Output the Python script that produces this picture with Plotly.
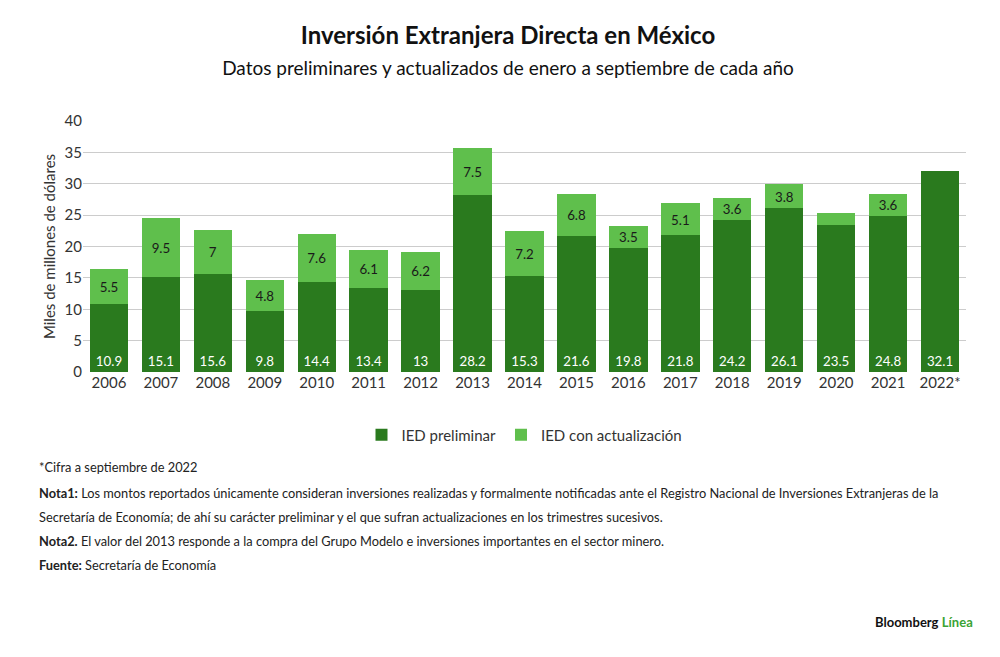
import plotly.graph_objects as go

# Datos de la gráfica
years = ['2006', '2007', '2008', '2009', '2010', '2011', '2012', '2013', '2014',
         '2015', '2016', '2017', '2018', '2019', '2020', '2021', '2022*']
preliminar = [10.9, 15.1, 15.6, 9.8, 14.4, 13.4, 13, 28.2, 15.3, 21.6, 19.8, 21.8, 24.2, 26.1, 23.5, 24.8, 32.1]
actualizacion = [5.5, 9.5, 7, 4.8, 7.6, 6.1, 6.2, 7.5, 7.2, 6.8, 3.5, 5.1, 3.6, 3.8, 1.9, 3.6, 0]
act_labels = [str(v) if v >= 3 else '' for v in actualizacion]

colors = {
    'dark': '#2a7a1e',   # IED preliminar
    'light': '#5fbf4c'   # IED con actualización
}

fig = go.Figure()

fig.add_trace(go.Bar(
    x=years, y=preliminar, name='IED preliminar',
    marker=dict(color=colors['dark'], line=dict(width=0)),
    text=[str(v) for v in preliminar], textposition='inside', insidetextanchor='start',
    textfont=dict(color='white', size=15), width=0.74
))
fig.add_trace(go.Bar(
    x=years, y=actualizacion, name='IED con actualización',
    marker=dict(color=colors['light'], line=dict(width=0)),
    text=act_labels, textposition='inside', insidetextanchor='middle',
    textfont=dict(color='#1a1a1a', size=15), width=0.74
))

# Notas al pie
notes = [
    (-0.378, '*Cifra a septiembre de 2022'),
    (-0.482, '<b>Nota1:</b> Los montos reportados únicamente consideran inversiones realizadas y formalmente notificadas ante el Registro Nacional de Inversiones Extranjeras de la'),
    (-0.578, 'Secretaría de Economía; de ahí su carácter preliminar y el que sufran actualizaciones en los trimestres sucesivos.'),
    (-0.673, '<b>Nota2.</b> El valor del 2013 responde a la compra del Grupo Modelo e inversiones importantes en el sector minero.'),
    (-0.769, '<b>Fuente:</b> Secretaría de Economía'),
]
for y, t in notes:
    fig.add_annotation(text=t, xref='paper', yref='paper', x=-0.052, y=y,
                       xanchor='left', yanchor='middle', showarrow=False,
                       font=dict(size=12.8, color='#222'))
fig.add_annotation(text='<b>Bloomberg</b> <span style="color:#3aa335"><b>Línea</b></span>',
                   xref='paper', yref='paper', x=1.01, y=-0.996, xanchor='right', yanchor='middle',
                   showarrow=False, font=dict(size=13, color='#111'))

fig.update_layout(
    title=dict(text='<b>Inversión Extranjera Directa en México</b><br><span style="font-size:19px">Datos preliminares y actualizados de enero a septiembre de cada año</span>',
               x=0.5, y=0.945, xanchor='center', font=dict(size=24, color='#111')),
    barmode='stack',
    width=1000, height=657,
    margin=dict(l=75, r=42, t=113, b=293),
    plot_bgcolor='white', paper_bgcolor='white',
    font=dict(family='Lato, sans-serif', color='#333'),
    uniformtext=dict(minsize=10, mode='show'),
    xaxis=dict(tickfont=dict(size=15), showline=False),
    yaxis=dict(range=[0, 40], dtick=5, showgrid=True, gridcolor='#cccccc',
               tickfont=dict(size=15),
               title=dict(text='Miles de millones de dólares', font=dict(size=15), standoff=5)),
    legend=dict(orientation='h', xanchor='center', x=0.5, y=-0.251, yanchor='middle',
                traceorder='normal', font=dict(size=15)),
)

fig.write_html('out.html')
